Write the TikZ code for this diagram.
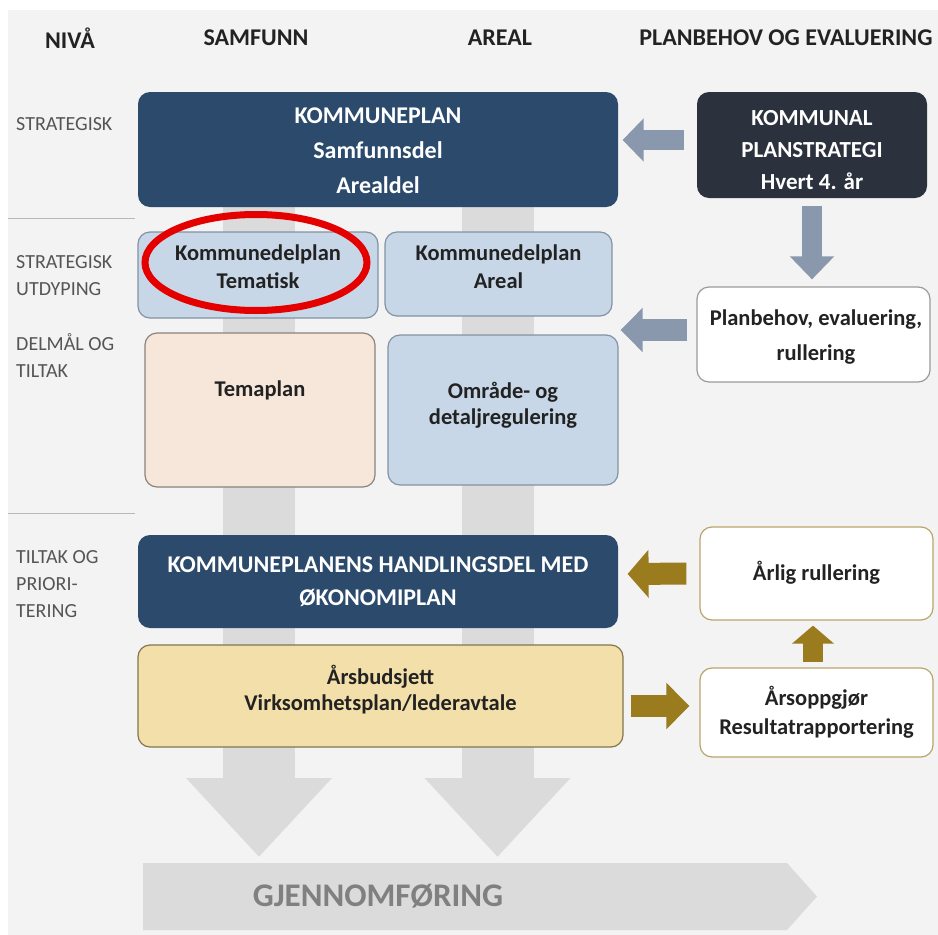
\documentclass[tikz,border=0pt]{standalone}
\usepackage{fontspec}
\setmainfont{Carlito}
\usetikzlibrary{arrows.meta}
\definecolor{bgc}{HTML}{F3F3F3}
\definecolor{navy}{HTML}{2B4A6C}
\definecolor{charc}{HTML}{2B323D}
\definecolor{lblue}{HTML}{C8D7E7}
\definecolor{lblueb}{HTML}{8493A4}
\definecolor{peach}{HTML}{F6E7DA}
\definecolor{peachb}{HTML}{8A827B}
\definecolor{goldf}{HTML}{F2DFA9}
\definecolor{goldb}{HTML}{85754F}
\definecolor{goldarr}{HTML}{9A7B1E}
\definecolor{whiteb}{HTML}{B9A56B}
\definecolor{grayb}{HTML}{9A9A9A}
\definecolor{garr}{HTML}{8A98AE}
\definecolor{barg}{HTML}{DBDBDB}
\definecolor{gjtx}{HTML}{808080}
\definecolor{lvltx}{HTML}{555555}
\definecolor{dtx}{HTML}{222222}
\begin{document}
\begin{tikzpicture}[x=1pt,y=-1pt,
  boxbase/.style={rounded corners=12pt, inner sep=0pt, line width=1.2pt},
  navybox/.style={boxbase, fill=navy},
  charcbox/.style={boxbase, fill=charc},
  lbluebox/.style={boxbase, fill=lblue, draw=lblueb},
  peachbox/.style={boxbase, fill=peach, draw=peachb},
  goldbox/.style={boxbase, fill=goldf, draw=goldb},
  wgbox/.style={boxbase, fill=white, draw=grayb},
  wybox/.style={boxbase, fill=white, draw=whiteb},
  hdr/.style={font=\bfseries\fontsize{24}{28}\selectfont, text=dtx},
  lvl/.style={font=\fontsize{20}{27}\selectfont, text=lvltx, anchor=west, align=left, inner sep=0pt},
  wtxt/.style={font=\bfseries\fontsize{24}{35}\selectfont, text=white, align=center},
  dtxt/.style={font=\bfseries\fontsize{22.5}{28}\selectfont, text=dtx, align=center},
  barr/.style={draw=barg, line width=72pt, -{Triangle[width=141pt,length=79pt]}},
  gbarr/.style={draw=garr, line width=20pt},
  goldarrow/.style={draw=goldarr, line width=22pt},
]
\useasboundingbox (0,0) rectangle (938,935);
\fill[white] (0,0) rectangle (938,935);
\fill[bgc] (8,10) rectangle (938,935);

% separators
\draw[grayb!70, line width=1pt] (8,218) -- (135,218);
\draw[grayb!70, line width=1pt] (8,513) -- (135,513);

% headers
\node[hdr] (hniva) at (70,38) {NIVÅ};
\node[hdr] (hsamf) at (256,38) {SAMFUNN};
\node[hdr] (hareal) at (500,38) {AREAL};
\node[hdr] (hplan) at (786,38) {PLANBEHOV OG EVALUERING};

% level labels
\node[lvl] (l1) at (16,124) {STRATEGISK};
\node[lvl] (l2) at (16,276) {STRATEGISK\\UTDYPING};
\node[lvl] (l3) at (16,355.5) {DELMÅL OG\\TILTAK};
\node[lvl] (l4) at (16,584) {TILTAK OG\\PRIORI-\\TERING};

% gjennomforing arrow
\coordinate (gjtl) at (143,863);
\fill[barg] (gjtl) -- (787,863) -- (817,896.5) -- (787,930) -- (143,930) -- cycle;
\node[font=\bfseries\fontsize{33}{36}\selectfont, text=gjtx] (gjt) at (378,896) {GJENNOMFØRING};

% vertical bars
\coordinate (bar1top) at (259,95);
\coordinate (bar2top) at (497.5,95);
\draw[barr, shorten >=6pt] (bar1top) -- (bar1top |- gjtl);
\draw[barr, shorten >=6pt] (bar2top) -- (bar2top |- gjtl);

% boxes
\node[navybox, minimum width=480pt, minimum height=115pt] (kp) at (378,149.5) {};
\node[wtxt] (kpt) at (378,151) {KOMMUNEPLAN\\Samfunnsdel\\Arealdel};

\node[charcbox, minimum width=230pt, minimum height=106pt] (ps) at (812,145) {};
\node[wtxt, font=\bfseries\fontsize{23}{32}\selectfont] (pst) at (812,150) {KOMMUNAL\\PLANSTRATEGI\\Hvert 4. år};

\node[lbluebox, minimum width=240pt, minimum height=86pt] (kdt) at (258,275) {};
\node[dtxt] (kdtt) at (258,267) {Kommunedelplan\\Tematisk};

\node[lbluebox, minimum width=227pt, minimum height=84pt] (kda) at (498.5,274) {};
\node[dtxt] (kdat) at (498.5,267) {Kommunedelplan\\Areal};

\node[peachbox, minimum width=230pt, minimum height=154pt] (tp) at (260,410) {};
\node[dtxt] (tpt) at (260,390) {Temaplan};

\node[lbluebox, minimum width=230pt, minimum height=150pt] (omr) at (503,410) {};
\node[dtxt, font=\bfseries\fontsize{22.5}{26}\selectfont] (omrt) at (503,405) {Område- og\\detaljregulering};

\node[wgbox, minimum width=233pt, minimum height=95pt] (pb) at (813.5,334.5) {};
\node[dtxt, font=\bfseries\fontsize{22.5}{35}\selectfont] (pbt) at (816,337.5) {Planbehov, evaluering,\\rullering};

\node[navybox, minimum width=480pt, minimum height=93pt] (hd) at (378,581.5) {};
\node[wtxt, font=\bfseries\fontsize{24}{33}\selectfont] (hdt) at (378,581.5) {KOMMUNEPLANENS HANDLINGSDEL MED\\ØKONOMIPLAN};

\node[goldbox, minimum width=485pt, minimum height=102pt] (bud) at (380.5,696) {};
\node[dtxt, font=\bfseries\fontsize{22.5}{26}\selectfont] (budt) at (380.5,690) {Årsbudsjett\\Virksomhetsplan/lederavtale};

\node[wybox, minimum width=233pt, minimum height=93pt] (ar) at (816.5,573.5) {};
\node[dtxt] (art) at (816.5,573) {Årlig rullering};

\node[wybox, minimum width=233pt, minimum height=89pt] (ao) at (816.5,712.5) {};
\node[dtxt, font=\bfseries\fontsize{22.5}{29}\selectfont] (aot) at (816.5,712.5) {Årsoppgjør\\Resultatrapportering};

% gray-blue arrows
\draw[gbarr, -{Triangle[width=42pt,length=21pt]}, shorten <=12pt, shorten >=4pt] ([yshift=5pt]ps.west) -- ([yshift=9.5pt]kp.east);
\draw[gbarr, -{Triangle[width=43pt,length=23pt]}, shorten <=7pt, shorten >=7pt] (ps.south) -- (ps.south |- pb.north);
\draw[gbarr, line width=22pt, -{Triangle[width=43pt,length=22pt]}, shorten <=9pt, shorten >=2pt] ([yshift=4.5pt]pb.west) -- ([yshift=80pt]omr.east);

% gold arrows
\draw[goldarrow, -{Triangle[width=47pt,length=21pt]}, shorten <=13pt, shorten >=9pt] (ar.west) -- ([yshift=7.5pt]hd.east);
\draw[goldarrow, -{Triangle[width=45pt,length=23pt]}, shorten <=7pt, shorten >=10pt] ([yshift=-10pt]bud.east) -- ([yshift=6.5pt]ao.west);
\draw[goldarrow, line width=20pt, -{Triangle[width=41pt,length=18pt]}, shorten <=5pt, shorten >=5pt] ([xshift=-3.5pt]ao.north) -- ([xshift=-3.5pt]ar.south);

% red ellipse
\draw[red!90!black, line width=7pt] (256,262.5) ellipse [x radius=111pt, y radius=48pt];
\end{tikzpicture}
\end{document}
